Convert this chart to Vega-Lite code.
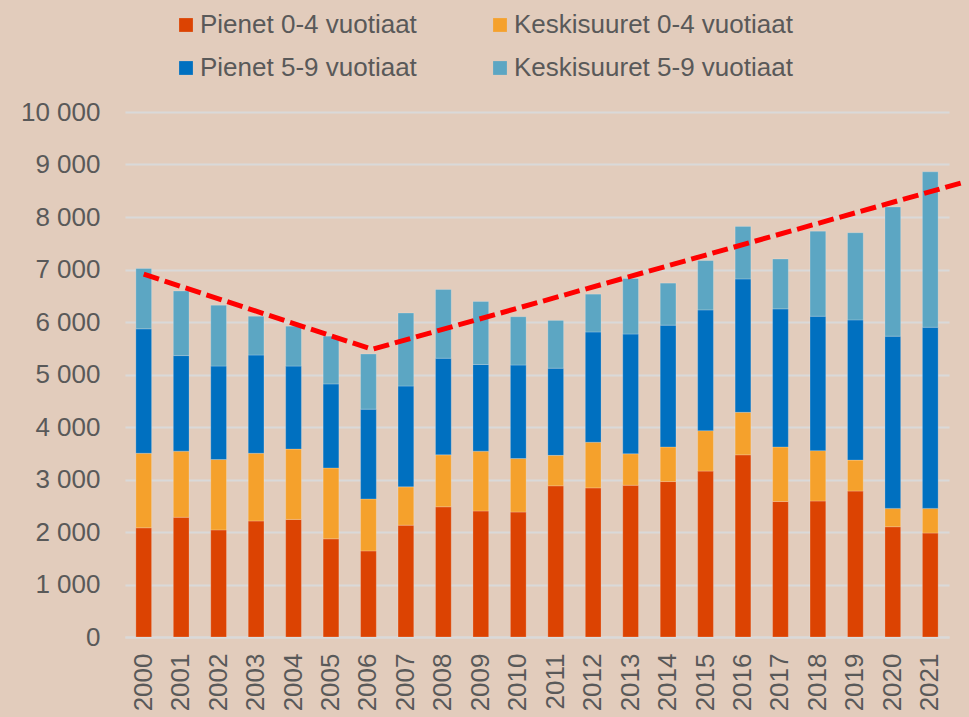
{
  "$schema": "https://vega.github.io/schema/vega-lite/v6.json",
  "width": 824,
  "height": 525,
  "autosize": {"type": "none"},
  "padding": {"left": 125, "top": 112, "right": 20, "bottom": 80},
  "background": "#E2CCBC",
  "config": {
    "view": {"stroke": null},
    "font": "Liberation Sans",
    "axis": {"labelFont": "Liberation Sans", "labelColor": "#595959", "labelFontSize": 26}
  },
  "datasets": {
    "bars": [
      {"year": "2000", "group": "Pienet 0-4 vuotiaat", "value": 2080},
      {"year": "2000", "group": "Keskisuuret 0-4 vuotiaat", "value": 1420},
      {"year": "2000", "group": "Pienet 5-9 vuotiaat", "value": 2370},
      {"year": "2000", "group": "Keskisuuret 5-9 vuotiaat", "value": 1150},
      {"year": "2001", "group": "Pienet 0-4 vuotiaat", "value": 2280},
      {"year": "2001", "group": "Keskisuuret 0-4 vuotiaat", "value": 1260},
      {"year": "2001", "group": "Pienet 5-9 vuotiaat", "value": 1820},
      {"year": "2001", "group": "Keskisuuret 5-9 vuotiaat", "value": 1230},
      {"year": "2002", "group": "Pienet 0-4 vuotiaat", "value": 2040},
      {"year": "2002", "group": "Keskisuuret 0-4 vuotiaat", "value": 1340},
      {"year": "2002", "group": "Pienet 5-9 vuotiaat", "value": 1780},
      {"year": "2002", "group": "Keskisuuret 5-9 vuotiaat", "value": 1160},
      {"year": "2003", "group": "Pienet 0-4 vuotiaat", "value": 2210},
      {"year": "2003", "group": "Keskisuuret 0-4 vuotiaat", "value": 1290},
      {"year": "2003", "group": "Pienet 5-9 vuotiaat", "value": 1870},
      {"year": "2003", "group": "Keskisuuret 5-9 vuotiaat", "value": 740},
      {"year": "2004", "group": "Pienet 0-4 vuotiaat", "value": 2240},
      {"year": "2004", "group": "Keskisuuret 0-4 vuotiaat", "value": 1340},
      {"year": "2004", "group": "Pienet 5-9 vuotiaat", "value": 1580},
      {"year": "2004", "group": "Keskisuuret 5-9 vuotiaat", "value": 760},
      {"year": "2005", "group": "Pienet 0-4 vuotiaat", "value": 1870},
      {"year": "2005", "group": "Keskisuuret 0-4 vuotiaat", "value": 1350},
      {"year": "2005", "group": "Pienet 5-9 vuotiaat", "value": 1600},
      {"year": "2005", "group": "Keskisuuret 5-9 vuotiaat", "value": 910},
      {"year": "2006", "group": "Pienet 0-4 vuotiaat", "value": 1640},
      {"year": "2006", "group": "Keskisuuret 0-4 vuotiaat", "value": 990},
      {"year": "2006", "group": "Pienet 5-9 vuotiaat", "value": 1710},
      {"year": "2006", "group": "Keskisuuret 5-9 vuotiaat", "value": 1050},
      {"year": "2007", "group": "Pienet 0-4 vuotiaat", "value": 2130},
      {"year": "2007", "group": "Keskisuuret 0-4 vuotiaat", "value": 730},
      {"year": "2007", "group": "Pienet 5-9 vuotiaat", "value": 1920},
      {"year": "2007", "group": "Keskisuuret 5-9 vuotiaat", "value": 1390},
      {"year": "2008", "group": "Pienet 0-4 vuotiaat", "value": 2480},
      {"year": "2008", "group": "Keskisuuret 0-4 vuotiaat", "value": 990},
      {"year": "2008", "group": "Pienet 5-9 vuotiaat", "value": 1840},
      {"year": "2008", "group": "Keskisuuret 5-9 vuotiaat", "value": 1310},
      {"year": "2009", "group": "Pienet 0-4 vuotiaat", "value": 2400},
      {"year": "2009", "group": "Keskisuuret 0-4 vuotiaat", "value": 1140},
      {"year": "2009", "group": "Pienet 5-9 vuotiaat", "value": 1650},
      {"year": "2009", "group": "Keskisuuret 5-9 vuotiaat", "value": 1200},
      {"year": "2010", "group": "Pienet 0-4 vuotiaat", "value": 2380},
      {"year": "2010", "group": "Keskisuuret 0-4 vuotiaat", "value": 1020},
      {"year": "2010", "group": "Pienet 5-9 vuotiaat", "value": 1780},
      {"year": "2010", "group": "Keskisuuret 5-9 vuotiaat", "value": 920},
      {"year": "2011", "group": "Pienet 0-4 vuotiaat", "value": 2880},
      {"year": "2011", "group": "Keskisuuret 0-4 vuotiaat", "value": 580},
      {"year": "2011", "group": "Pienet 5-9 vuotiaat", "value": 1660},
      {"year": "2011", "group": "Keskisuuret 5-9 vuotiaat", "value": 910},
      {"year": "2012", "group": "Pienet 0-4 vuotiaat", "value": 2840},
      {"year": "2012", "group": "Keskisuuret 0-4 vuotiaat", "value": 870},
      {"year": "2012", "group": "Pienet 5-9 vuotiaat", "value": 2100},
      {"year": "2012", "group": "Keskisuuret 5-9 vuotiaat", "value": 720},
      {"year": "2013", "group": "Pienet 0-4 vuotiaat", "value": 2890},
      {"year": "2013", "group": "Keskisuuret 0-4 vuotiaat", "value": 600},
      {"year": "2013", "group": "Pienet 5-9 vuotiaat", "value": 2280},
      {"year": "2013", "group": "Keskisuuret 5-9 vuotiaat", "value": 1060},
      {"year": "2014", "group": "Pienet 0-4 vuotiaat", "value": 2960},
      {"year": "2014", "group": "Keskisuuret 0-4 vuotiaat", "value": 660},
      {"year": "2014", "group": "Pienet 5-9 vuotiaat", "value": 2320},
      {"year": "2014", "group": "Keskisuuret 5-9 vuotiaat", "value": 800},
      {"year": "2015", "group": "Pienet 0-4 vuotiaat", "value": 3160},
      {"year": "2015", "group": "Keskisuuret 0-4 vuotiaat", "value": 770},
      {"year": "2015", "group": "Pienet 5-9 vuotiaat", "value": 2300},
      {"year": "2015", "group": "Keskisuuret 5-9 vuotiaat", "value": 940},
      {"year": "2016", "group": "Pienet 0-4 vuotiaat", "value": 3470},
      {"year": "2016", "group": "Keskisuuret 0-4 vuotiaat", "value": 810},
      {"year": "2016", "group": "Pienet 5-9 vuotiaat", "value": 2540},
      {"year": "2016", "group": "Keskisuuret 5-9 vuotiaat", "value": 1000},
      {"year": "2017", "group": "Pienet 0-4 vuotiaat", "value": 2580},
      {"year": "2017", "group": "Keskisuuret 0-4 vuotiaat", "value": 1040},
      {"year": "2017", "group": "Pienet 5-9 vuotiaat", "value": 2630},
      {"year": "2017", "group": "Keskisuuret 5-9 vuotiaat", "value": 950},
      {"year": "2018", "group": "Pienet 0-4 vuotiaat", "value": 2590},
      {"year": "2018", "group": "Keskisuuret 0-4 vuotiaat", "value": 960},
      {"year": "2018", "group": "Pienet 5-9 vuotiaat", "value": 2560},
      {"year": "2018", "group": "Keskisuuret 5-9 vuotiaat", "value": 1620},
      {"year": "2019", "group": "Pienet 0-4 vuotiaat", "value": 2780},
      {"year": "2019", "group": "Keskisuuret 0-4 vuotiaat", "value": 590},
      {"year": "2019", "group": "Pienet 5-9 vuotiaat", "value": 2670},
      {"year": "2019", "group": "Keskisuuret 5-9 vuotiaat", "value": 1660},
      {"year": "2020", "group": "Pienet 0-4 vuotiaat", "value": 2100},
      {"year": "2020", "group": "Keskisuuret 0-4 vuotiaat", "value": 350},
      {"year": "2020", "group": "Pienet 5-9 vuotiaat", "value": 3280},
      {"year": "2020", "group": "Keskisuuret 5-9 vuotiaat", "value": 2460},
      {"year": "2021", "group": "Pienet 0-4 vuotiaat", "value": 1980},
      {"year": "2021", "group": "Keskisuuret 0-4 vuotiaat", "value": 470},
      {"year": "2021", "group": "Pienet 5-9 vuotiaat", "value": 3450},
      {"year": "2021", "group": "Keskisuuret 5-9 vuotiaat", "value": 2960}
    ],
    "trend": [
      {"t": 2000.0, "v": 6910},
      {"t": 2006.1, "v": 5480},
      {"t": 2021.88, "v": 8660}
    ]
  },
  "layer": [
    {
      "data": {"name": "bars"},
      "transform": [
        {"calculate": "indexof(['Pienet 0-4 vuotiaat','Keskisuuret 0-4 vuotiaat','Pienet 5-9 vuotiaat','Keskisuuret 5-9 vuotiaat'], datum.group)", "as": "k"}
      ],
      "mark": {"type": "bar", "stroke": "#ffffff", "strokeOpacity": 0.25, "strokeWidth": 0.8},
      "encoding": {
        "x": {
          "field": "year", "type": "ordinal",
          "scale": {"paddingInner": 0.58, "paddingOuter": 0.29},
          "axis": {"title": null, "labelAngle": -90, "labelPadding": 16, "ticks": false, "domain": true, "domainColor": "#D9D9D9", "domainWidth": 2, "grid": false}
        },
        "y": {
          "field": "value", "type": "quantitative", "aggregate": "sum", "stack": "zero",
          "scale": {"domain": [0, 10000], "nice": false},
          "axis": {
            "title": null, "values": [0,1000,2000,3000,4000,5000,6000,7000,8000,9000,10000],
            "labelExpr": "replace(format(datum.value, ','), ',', ' ')",
            "domain": false, "ticks": false, "labelPadding": 25,
            "gridColor": "#D9D9D9", "gridWidth": 2
          }
        },
        "color": {
          "field": "group", "type": "nominal",
          "scale": {
            "domain": ["Pienet 0-4 vuotiaat", "Keskisuuret 0-4 vuotiaat", "Pienet 5-9 vuotiaat", "Keskisuuret 5-9 vuotiaat"],
            "range": ["#DC4302", "#F5A12C", "#0070C0", "#5CA6C3"]
          },
          "legend": {
            "title": null, "orient": "none", "legendX": 48, "legendY": -100,
            "direction": "horizontal", "columns": 2, "columnPadding": 70, "rowPadding": 17,
            "symbolType": "square", "symbolSize": 190, "symbolStrokeWidth": 0, "symbolOpacity": 1,
            "labelFont": "Liberation Sans", "labelFontSize": 26, "labelColor": "#595959", "labelOffset": 1,
            "labelLimit": 400
          }
        },
        "order": {"field": "k", "type": "quantitative", "sort": "ascending"}
      }
    },
    {
      "data": {"name": "trend"},
      "mark": {"type": "line", "color": "#FF0000", "strokeWidth": 5, "strokeDash": [16, 6], "clip": false},
      "encoding": {
        "x": {"field": "t", "type": "quantitative", "scale": {"domain": [1999.5, 2021.5], "nice": false, "zero": false}, "axis": null},
        "y": {"field": "v", "type": "quantitative"}
      }
    }
  ],
  "resolve": {"scale": {"x": "independent"}, "axis": {"x": "independent"}}
}
